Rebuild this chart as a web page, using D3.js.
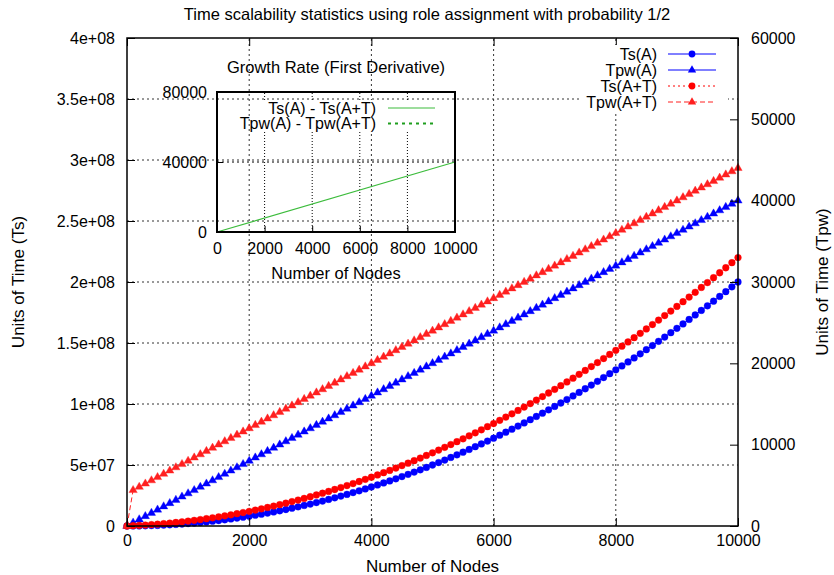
<!DOCTYPE html>
<html>
<head>
<meta charset="utf-8">
<script src="https://cdn.jsdelivr.net/npm/d3@7"></script>
<style>
    body { margin: 0; background: #fff; }
    svg text { font-family: "Liberation Sans", Arial, sans-serif; font-size: 16px; fill: #000; }
</style>
</head>
<body>
<div id="chart"></div>
<script>
// number of nodes (x values of every series)
const nodes = [
    0, 100, 200, 300, 400, 500, 600, 700, 800, 900,
    1000, 1100, 1200, 1300, 1400, 1500, 1600, 1700, 1800, 1900,
    2000, 2100, 2200, 2300, 2400, 2500, 2600, 2700, 2800, 2900,
    3000, 3100, 3200, 3300, 3400, 3500, 3600, 3700, 3800, 3900,
    4000, 4100, 4200, 4300, 4400, 4500, 4600, 4700, 4800, 4900,
    5000, 5100, 5200, 5300, 5400, 5500, 5600, 5700, 5800, 5900,
    6000, 6100, 6200, 6300, 6400, 6500, 6600, 6700, 6800, 6900,
    7000, 7100, 7200, 7300, 7400, 7500, 7600, 7700, 7800, 7900,
    8000, 8100, 8200, 8300, 8400, 8500, 8600, 8700, 8800, 8900,
    9000, 9100, 9200, 9300, 9400, 9500, 9600, 9700, 9800, 9900,
    10000
];

// Ts(A), units of time in millions (left axis)
const tsA = [
    0, 0.02, 0.08, 0.18, 0.32, 0.5, 0.72, 0.98, 1.28, 1.62,
    2, 2.42, 2.88, 3.38, 3.92, 4.5, 5.12, 5.78, 6.48, 7.22,
    8, 8.82, 9.68, 10.58, 11.52, 12.5, 13.52, 14.58, 15.68, 16.82,
    18, 19.22, 20.48, 21.78, 23.12, 24.5, 25.92, 27.38, 28.88, 30.42,
    32, 33.62, 35.28, 36.98, 38.72, 40.5, 42.32, 44.18, 46.08, 48.02,
    50, 52.02, 54.08, 56.18, 58.32, 60.5, 62.72, 64.98, 67.28, 69.62,
    72, 74.42, 76.88, 79.38, 81.92, 84.5, 87.12, 89.78, 92.48, 95.22,
    98, 100.82, 103.68, 106.58, 109.52, 112.5, 115.52, 118.58, 121.68, 124.82,
    128, 131.22, 134.48, 137.78, 141.12, 144.5, 147.92, 151.38, 154.88, 158.42,
    162, 165.62, 169.28, 172.98, 176.72, 180.5, 184.32, 188.18, 192.08, 196.02,
    200
];

// Ts(A+T), units of time in millions (left axis)
const tsAT = [
    0, 0.22, 0.48, 0.78, 1.12, 1.5, 1.92, 2.38, 2.88, 3.42,
    4, 4.62, 5.28, 5.98, 6.72, 7.5, 8.32, 9.18, 10.08, 11.02,
    12, 13.02, 14.08, 15.18, 16.32, 17.5, 18.72, 19.98, 21.28, 22.62,
    24, 25.42, 26.88, 28.38, 29.92, 31.5, 33.12, 34.78, 36.48, 38.22,
    40, 41.82, 43.68, 45.58, 47.52, 49.5, 51.52, 53.58, 55.68, 57.82,
    60, 62.22, 64.48, 66.78, 69.12, 71.5, 73.92, 76.38, 78.88, 81.42,
    84, 86.62, 89.28, 91.98, 94.72, 97.5, 100.32, 103.18, 106.08, 109.02,
    112, 115.02, 118.08, 121.18, 124.32, 127.5, 130.72, 133.98, 137.28, 140.62,
    144, 147.42, 150.88, 154.38, 157.92, 161.5, 165.12, 168.78, 172.48, 176.22,
    180, 183.82, 187.68, 191.58, 195.52, 199.5, 203.52, 207.58, 211.68, 215.82,
    220
];

// Tpw(A), right axis
const tpwA = [
    0, 400, 800, 1200, 1600, 2000, 2400, 2800, 3200, 3600,
    4000, 4400, 4800, 5200, 5600, 6000, 6400, 6800, 7200, 7600,
    8000, 8400, 8800, 9200, 9600, 10000, 10400, 10800, 11200, 11600,
    12000, 12400, 12800, 13200, 13600, 14000, 14400, 14800, 15200, 15600,
    16000, 16400, 16800, 17200, 17600, 18000, 18400, 18800, 19200, 19600,
    20000, 20400, 20800, 21200, 21600, 22000, 22400, 22800, 23200, 23600,
    24000, 24400, 24800, 25200, 25600, 26000, 26400, 26800, 27200, 27600,
    28000, 28400, 28800, 29200, 29600, 30000, 30400, 30800, 31200, 31600,
    32000, 32400, 32800, 33200, 33600, 34000, 34400, 34800, 35200, 35600,
    36000, 36400, 36800, 37200, 37600, 38000, 38400, 38800, 39200, 39600,
    40000
];

// Tpw(A+T), right axis
const tpwAT = [
    0, 4400, 4800, 5200, 5600, 6000, 6400, 6800, 7200, 7600,
    8000, 8400, 8800, 9200, 9600, 10000, 10400, 10800, 11200, 11600,
    12000, 12400, 12800, 13200, 13600, 14000, 14400, 14800, 15200, 15600,
    16000, 16400, 16800, 17200, 17600, 18000, 18400, 18800, 19200, 19600,
    20000, 20400, 20800, 21200, 21600, 22000, 22400, 22800, 23200, 23600,
    24000, 24400, 24800, 25200, 25600, 26000, 26400, 26800, 27200, 27600,
    28000, 28400, 28800, 29200, 29600, 30000, 30400, 30800, 31200, 31600,
    32000, 32400, 32800, 33200, 33600, 34000, 34400, 34800, 35200, 35600,
    36000, 36400, 36800, 37200, 37600, 38000, 38400, 38800, 39200, 39600,
    40000, 40400, 40800, 41200, 41600, 42000, 42400, 42800, 43200, 43600,
    44000
];

// inset: growth rate
const rateNodes = [0, 10000];
const tsRate = [0, 40000];
const tpwRate = [0, 0];

const xTicks = [0, 2000, 4000, 6000, 8000, 10000];
const tsTicks = [0, 50, 100, 150, 200, 250, 300, 350, 400];
const tpwTicks = [0, 10000, 20000, 30000, 40000, 50000, 60000];
const rateTicks = [0, 40000, 80000];

const width = 834, height = 575;
const plot = {left: 127, right: 738, top: 38, bottom: 526};
const inset = {left: 217, right: 455, top: 92, bottom: 232};

const svg = d3.select("#chart").append("svg")
    .attr("width", width)
    .attr("height", height);

const x = d3.scaleLinear().domain([0, 10000]).range([plot.left, plot.right]);
const yTs = d3.scaleLinear().domain([0, 400]).range([plot.bottom, plot.top]);
const yTpw = d3.scaleLinear().domain([0, 60000]).range([plot.bottom, plot.top]);

const xi = d3.scaleLinear().domain([0, 10000]).range([inset.left, inset.right]);
const yi = d3.scaleLinear().domain([0, 80000]).range([inset.bottom, inset.top]);

const plain = d3.format("d");

// 5e+07 style labels (values are in millions)
let sci = function (v) {
    if (v === 0) return "0";
    let parts = (v * 1e6).toExponential().split("e");
    return parts[0] + "e" + parts[1][0] + parts[1].slice(1).padStart(2, "0");
};

// main grid
let grid = svg.append("g")
    .attr("stroke", "#333")
    .attr("stroke-width", 1)
    .attr("stroke-dasharray", "2,3");

grid.selectAll("line.vx")
    .data(xTicks.slice(1, -1))
    .join("line")
    .attr("x1", d => x(d)).attr("x2", d => x(d))
    .attr("y1", plot.bottom).attr("y2", plot.top);

grid.selectAll("line.hy")
    .data(tsTicks.slice(1, -1))
    .join("line")
    .attr("x1", plot.left).attr("x2", plot.right)
    .attr("y1", d => yTs(d)).attr("y2", d => yTs(d));

// ---- inset ----
let ig = svg.append("g");

ig.append("g")
    .attr("stroke", "#000")
    .attr("stroke-dasharray", "1,2")
    .selectAll("line")
    .data(xTicks.slice(1, -1))
    .join("line")
    .attr("x1", d => xi(d)).attr("x2", d => xi(d))
    .attr("y1", inset.bottom).attr("y2", inset.top);

ig.append("g")
    .attr("stroke", "#000")
    .attr("stroke-dasharray", "2,3")
    .selectAll("line")
    .data(rateTicks.slice(1, -1))
    .join("line")
    .attr("x1", inset.left).attr("x2", inset.right)
    .attr("y1", d => yi(d)).attr("y2", d => yi(d));

let insetLine = d3.line().x((d, i) => xi(rateNodes[i])).y(d => yi(d));

ig.append("path")
    .attr("d", insetLine(tsRate))
    .attr("fill", "none")
    .attr("stroke", "#3cbc3c")
    .attr("stroke-width", 1.2);

ig.append("path")
    .attr("d", insetLine(tpwRate))
    .attr("fill", "none")
    .attr("stroke", "#1e9e1e")
    .attr("stroke-width", 2)
    .attr("stroke-dasharray", "3,4");

ig.append("g")
    .attr("transform", "translate(0," + inset.bottom + ")")
    .call(d3.axisBottom(xi).tickValues(xTicks).tickSize(-6).tickPadding(11).tickFormat(plain))
    .call(g => g.select(".domain").remove())
    .call(g => g.selectAll("text").attr("font-size", null));

ig.append("g")
    .attr("transform", "translate(" + inset.left + ",0)")
    .call(d3.axisLeft(yi).tickValues(rateTicks).tickSize(-6).tickPadding(10).tickFormat(plain))
    .call(g => g.select(".domain").remove())
    .call(g => g.selectAll("text").attr("font-size", null));

ig.append("rect")
    .attr("x", inset.left).attr("y", inset.top)
    .attr("width", inset.right - inset.left)
    .attr("height", inset.bottom - inset.top)
    .attr("fill", "none")
    .attr("stroke", "#000")
    .attr("stroke-width", 2);

ig.append("text")
    .attr("x", (inset.left + inset.right) / 2)
    .attr("y", 67)
    .attr("dy", "0.35em")
    .attr("text-anchor", "middle")
    .style("font-size", "16.5px")
    .text("Growth Rate (First Derivative)");

ig.append("text")
    .attr("x", (inset.left + inset.right) / 2)
    .attr("y", 273)
    .attr("dy", "0.35em")
    .attr("text-anchor", "middle")
    .style("font-size", "16.5px")
    .text("Number of Nodes");

// inset key
let insetKey = [
    {name: "Ts(A) - Ts(A+T)", color: "#3cbc3c", width: 1.2, dash: null},
    {name: "Tpw(A) - Tpw(A+T)", color: "#1e9e1e", width: 2, dash: "3,4"}
];

ig.append("rect")
    .attr("x", 258).attr("y", 100)
    .attr("width", 182).attr("height", 32)
    .attr("fill", "#fff");

let ik = ig.selectAll("g.ikey")
    .data(insetKey)
    .join("g")
    .attr("transform", (d, i) => "translate(0," + (108 + i * 15.5) + ")");

ik.append("text")
    .attr("x", 376)
    .attr("dy", "0.35em")
    .attr("text-anchor", "end")
    .text(d => d.name);

ik.append("line")
    .attr("x1", 388).attr("x2", 435)
    .attr("stroke", d => d.color)
    .attr("stroke-width", d => d.width)
    .attr("stroke-dasharray", d => d.dash);

// ---- main series ----
let series = [
    {name: "Ts(A)", values: tsA, y: yTs, color: "#0000ff", dash: null, symbol: d3.symbolCircle, size: 36},
    {name: "Tpw(A)", values: tpwA, y: yTpw, color: "#0000ff", dash: null, symbol: d3.symbolTriangle, size: 30},
    {name: "Ts(A+T)", values: tsAT, y: yTs, color: "#ff0000", dash: "2,3", symbol: d3.symbolCircle, size: 36},
    {name: "Tpw(A+T)", values: tpwAT, y: yTpw, color: "#ff2020", dash: "5,3", symbol: d3.symbolTriangle, size: 30}
];

let sg = svg.selectAll("g.series")
    .data(series)
    .join("g")
    .classed("series", true);

sg.append("path")
    .attr("d", s => d3.line().x((d, i) => x(nodes[i])).y(d => s.y(d))(s.values))
    .attr("fill", "none")
    .attr("stroke", s => s.color)
    .attr("stroke-width", 1)
    .attr("stroke-dasharray", s => s.dash);

sg.each(function (s) {
    d3.select(this).selectAll("path.pt")
        .data(s.values)
        .join("path")
        .classed("pt", true)
        .attr("transform", (d, i) => "translate(" + x(nodes[i]) + "," + s.y(d) + ")")
        .attr("d", d3.symbol(s.symbol, s.size))
        .attr("fill", s.color)
        .attr("stroke", s.color)
        .attr("stroke-opacity", 0.35)
        .attr("stroke-width", 1);
});

// ---- axes ----
svg.append("g")
    .attr("transform", "translate(0," + plot.bottom + ")")
    .call(d3.axisBottom(x).tickValues(xTicks).tickSize(-8).tickPadding(9).tickFormat(plain))
    .call(g => g.select(".domain").remove())
    .call(g => g.selectAll("text").attr("font-size", null));

svg.append("g")
    .attr("transform", "translate(0," + plot.top + ")")
    .call(d3.axisTop(x).tickValues(xTicks).tickSize(-8).tickFormat(""))
    .call(g => g.select(".domain").remove());

svg.append("g")
    .attr("transform", "translate(" + plot.left + ",0)")
    .call(d3.axisLeft(yTs).tickValues(tsTicks).tickSize(-8).tickPadding(12).tickFormat(sci))
    .call(g => g.select(".domain").remove())
    .call(g => g.selectAll("text").attr("font-size", null));

svg.append("g")
    .attr("transform", "translate(" + plot.right + ",0)")
    .call(d3.axisRight(yTpw).tickValues(tpwTicks).tickSize(-8).tickPadding(13).tickFormat(plain))
    .call(g => g.select(".domain").remove())
    .call(g => g.selectAll("text").attr("font-size", null));

svg.append("rect")
    .attr("x", plot.left).attr("y", plot.top)
    .attr("width", plot.right - plot.left)
    .attr("height", plot.bottom - plot.top)
    .attr("fill", "none")
    .attr("stroke", "#000")
    .attr("stroke-width", 1.5);

// ---- key ----
svg.append("rect")
    .attr("x", 582).attr("y", 45)
    .attr("width", 146).attr("height", 66)
    .attr("fill", "#fff");

let key = svg.selectAll("g.key")
    .data(series)
    .join("g")
    .classed("key", true)
    .attr("transform", (d, i) => "translate(0," + (54 + i * 16) + ")");

key.append("text")
    .attr("x", 657)
    .attr("dy", "0.35em")
    .attr("text-anchor", "end")
    .text(d => d.name);

key.append("line")
    .attr("x1", 668).attr("x2", 716)
    .attr("stroke", d => d.color)
    .attr("stroke-dasharray", d => d.dash);

key.append("path")
    .attr("transform", "translate(692,0)")
    .attr("d", d => d3.symbol(d.symbol, d.size)())
    .attr("fill", d => d.color);

// ---- titles ----
svg.append("text")
    .attr("x", 427).attr("y", 14)
    .attr("dy", "0.35em")
    .attr("text-anchor", "middle")
    .style("font-size", "16.5px")
    .text("Time scalability statistics using role assignment with probability 1/2");

svg.append("text")
    .attr("x", (plot.left + plot.right) / 2).attr("y", 566)
    .attr("dy", "0.35em")
    .attr("text-anchor", "middle")
    .style("font-size", "17px")
    .text("Number of Nodes");

svg.append("text")
    .attr("transform", "translate(18," + (plot.top + plot.bottom) / 2 + ") rotate(-90)")
    .attr("dy", "0.35em")
    .attr("text-anchor", "middle")
    .style("font-size", "17px")
    .text("Units of Time (Ts)");

svg.append("text")
    .attr("transform", "translate(822," + (plot.top + plot.bottom) / 2 + ") rotate(-90)")
    .attr("dy", "0.35em")
    .attr("text-anchor", "middle")
    .style("font-size", "17px")
    .text("Units of Time (Tpw)");
</script>
</body>
</html>
